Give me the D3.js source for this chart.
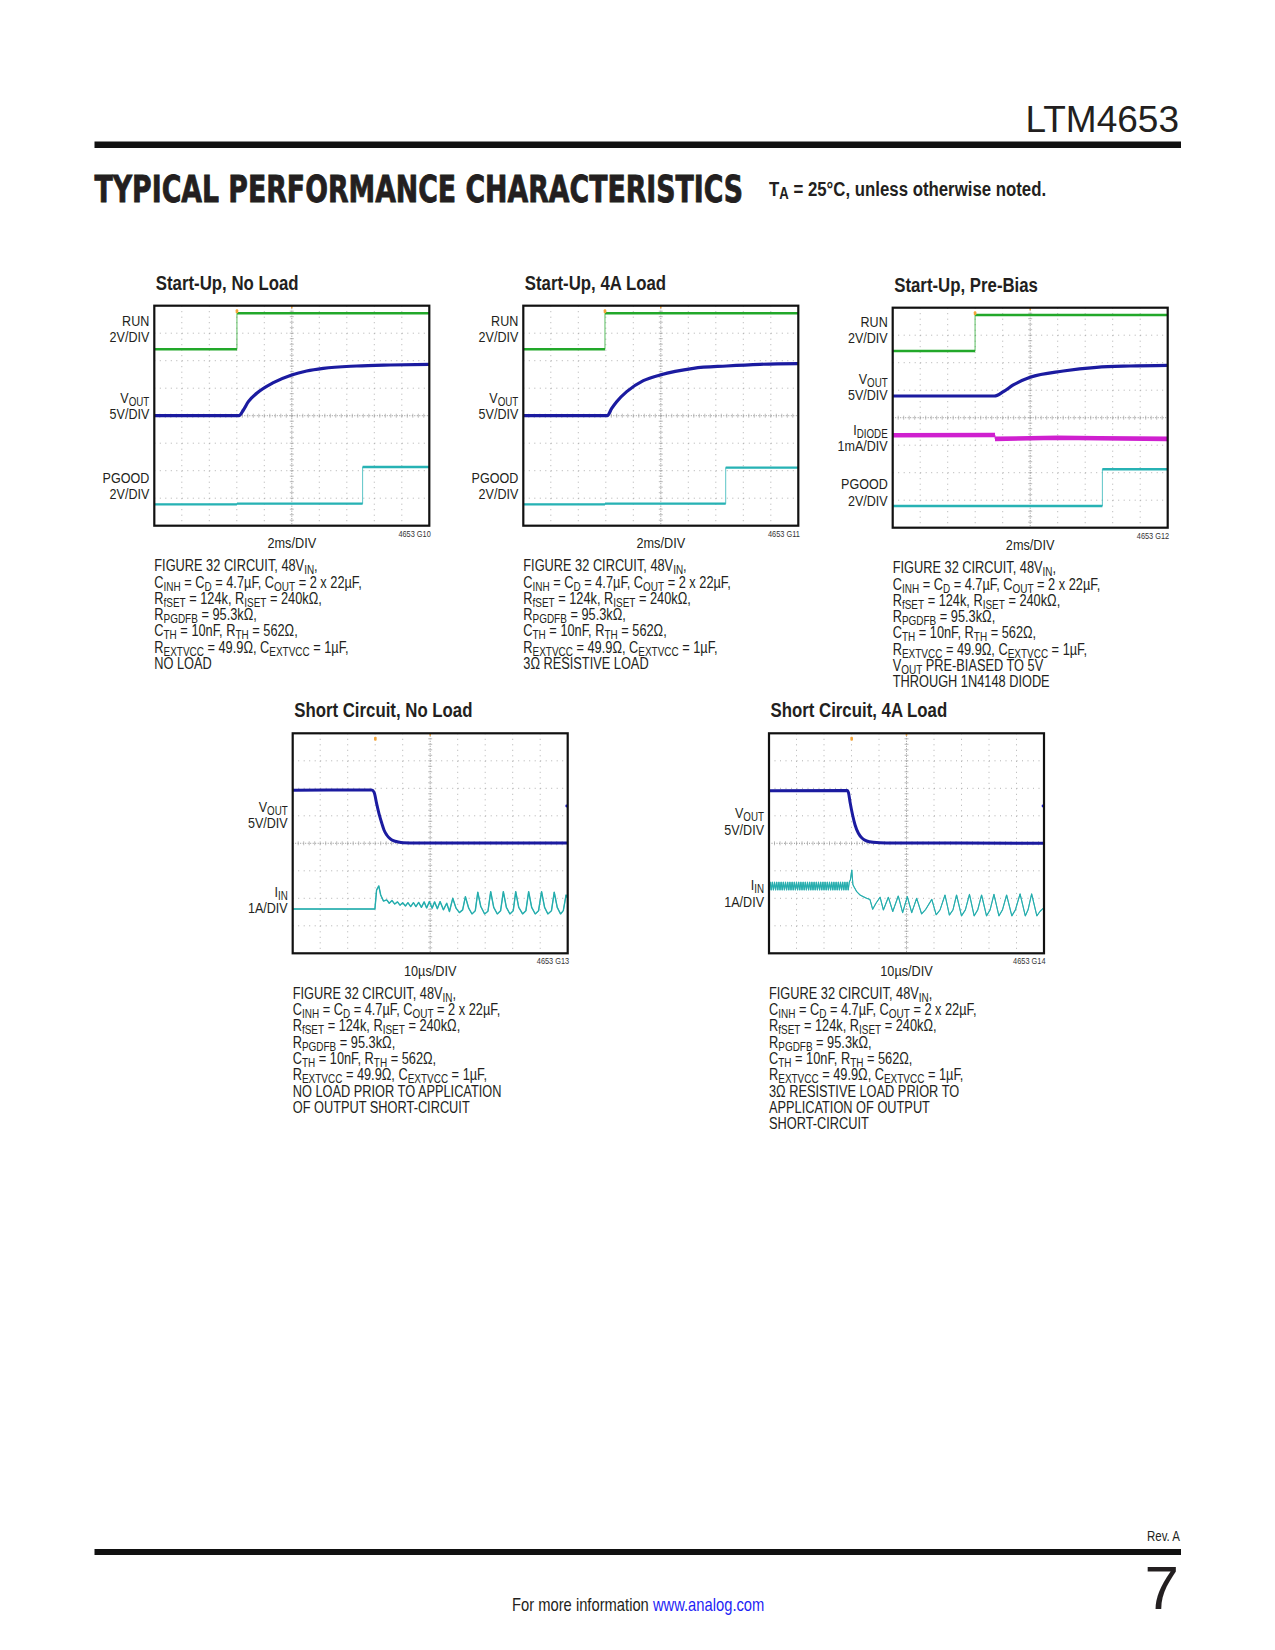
<!DOCTYPE html>
<html>
<head>
<meta charset="utf-8">
<script src="https://cdn.jsdelivr.net/npm/d3@7"></script>
<style>
body { margin: 0; background: #fff; }
text { font-family: "Liberation Sans", Arial, sans-serif; fill: #231f20; }
</style>
</head>
<body>
<svg id="page" width="1275" height="1650"></svg>
<script>
// time spans of the scope screens (10 divisions)
var startupTime = [0, 20];   // ms, 2ms/DIV
var shortTime = [0, 100];    // us, 10us/DIV

// ---- Start-Up, No Load (G10): [time ms, value]
var g10Run = [[0, 0], [6.01, 0], [6.01, 2.62], [20, 2.62]];
var g10Vout = [[0, 0], [6.16, 0], [6.48, 1.04], [6.84, 2.55], [7.45, 4.07], [8.66, 6.0], [9.99, 7.4],
  [11.08, 8.13], [12.29, 8.62], [14.72, 9.04], [17.14, 9.22], [20, 9.34]];
var g10Pgood = [[0, 0], [6.01, 0], [6.01, 0.05], [15.15, 0.05], [15.15, 2.72], [20, 2.72]];

// ---- Start-Up, 4A Load (G11)
var g11Run = [[0, 0], [5.94, 0], [5.94, 2.62], [20, 2.62]];
var g11Vout = [[0, 0], [6.11, 0], [6.43, 1.34], [6.79, 2.55], [7.52, 4.37], [8.73, 6.37], [9.94, 7.4],
  [12.37, 8.62], [14.79, 9.04], [17.21, 9.34], [20, 9.46]];
var g11Pgood = [[0, 0], [5.94, 0], [5.94, 0.05], [14.72, 0.05], [14.72, 2.67], [20, 2.67]];

// ---- Start-Up, Pre-Bias (G12)
var g12Run = [[0, 0], [5.99, 0], [5.99, 2.62], [20, 2.62]];
var g12Vout = [[0, 3.95], [7.39, 3.95], [8.05, 4.74], [8.77, 5.95], [9.99, 7.34], [12.41, 8.49],
  [14.83, 9.16], [17.26, 9.4], [20, 9.52]];
var g12Idiode = [[0, 0.96], [7.44, 0.97], [7.44, 0.83], [10, 0.85], [12, 0.87], [15, 0.85], [20, 0.83]]; // mA
var g12Pgood = [[0, 0], [15.25, 0], [15.25, 2.67], [20, 2.67]];

// ---- Short Circuit, No Load (G13): [time us, value]
var g13Vout = [[0, 9.66], [28.7, 9.69], [29.6, 9.3], [30.5, 7.27], [31.5, 5.15], [32.4, 3.64], [33.2, 2.42],
  [34.2, 1.51], [35.4, 0.85], [36.6, 0.48], [38.4, 0.24], [40.2, 0.12], [45.1, 0.06], [100, 0.06]];
var g13Iin = [[0, 0.21], [29.9, 0.21], [30.5, 0.9], [31.3, 1.05], [32.0, 0.72], [33.0, 0.5], [34.2, 0.54],
  [35.1, 0.42], [36.1, 0.52], [37.1, 0.39], [38.1, 0.47], [39.0, 0.35], [40.0, 0.44], [41.0, 0.32],
  [41.9, 0.44], [42.9, 0.3], [43.9, 0.44], [44.8, 0.3], [45.8, 0.45], [46.8, 0.27], [47.8, 0.47],
  [48.7, 0.25], [49.7, 0.48], [50.7, 0.24], [51.6, 0.47], [52.6, 0.22], [53.6, 0.48], [54.8, 0.18],
  [56.0, 0.42], [57.0, 0.12], [58.2, 0.6], [59.4, 0.24], [60.6, 0.08], [61.8, 0.18], [62.8, 0.66],
  [64.0, 0.24], [65.2, 0.03], [66.4, 0.15], [67.3, 0.82], [68.4, 0.3], [69.8, 0.03], [71.0, 0.13],
  [72.0, 0.84], [73.1, 0.27], [74.4, 0.03], [75.6, 0.15], [76.6, 0.84], [77.7, 0.27], [79.0, 0.03],
  [80.2, 0.15], [81.1, 0.84], [82.2, 0.27], [83.6, 0.03], [84.8, 0.15], [85.8, 0.84], [86.9, 0.27],
  [88.2, 0.03], [89.4, 0.15], [90.5, 0.84], [91.6, 0.27], [92.8, 0.03], [94.1, 0.15], [95.1, 0.82],
  [96.2, 0.27], [97.4, 0.03], [98.4, 0.15], [99.4, 0.72], [100, 0.6]];

// ---- Short Circuit, 4A Load (G14)
var g14Vout = [[0, 9.55], [28.5, 9.58], [28.9, 9.2], [29.45, 7.57], [30.4, 5.15], [31.3, 3.33], [32.5, 1.82],
  [33.9, 0.91], [35.5, 0.42], [37.9, 0.18], [42.8, 0.06], [100, 0.02]];
var g14Iin = [[0, 1.25], [0.4, 1.39], [0.8, 1.1], [1.2, 1.39], [1.6, 1.1], [2.0, 1.39], [2.4, 1.1], [2.8, 1.39],
  [3.2, 1.1], [3.6, 1.39], [4.0, 1.1], [4.4, 1.39], [4.8, 1.1], [5.2, 1.39], [5.6, 1.1], [6.0, 1.39],
  [6.4, 1.1], [6.8, 1.39], [7.2, 1.1], [7.6, 1.39], [8.0, 1.1], [8.4, 1.39], [8.8, 1.1], [9.2, 1.39],
  [9.6, 1.1], [10.0, 1.39], [10.4, 1.1], [10.8, 1.39], [11.2, 1.1], [11.6, 1.39], [12.0, 1.1], [12.4, 1.39],
  [12.8, 1.1], [13.2, 1.39], [13.6, 1.1], [14.0, 1.39], [14.4, 1.1], [14.8, 1.39], [15.2, 1.1], [15.6, 1.39],
  [16.0, 1.1], [16.4, 1.39], [16.8, 1.1], [17.2, 1.39], [17.6, 1.1], [18.0, 1.39], [18.4, 1.1], [18.8, 1.39],
  [19.2, 1.1], [19.6, 1.39], [20.0, 1.1], [20.4, 1.39], [20.8, 1.1], [21.2, 1.39], [21.6, 1.1], [22.0, 1.39],
  [22.4, 1.1], [22.8, 1.39], [23.2, 1.1], [23.6, 1.39], [24.0, 1.1], [24.4, 1.39], [24.8, 1.1], [25.2, 1.39],
  [25.6, 1.1], [26.0, 1.39], [26.4, 1.1], [26.8, 1.39], [27.2, 1.1], [27.6, 1.39], [28.0, 1.1], [28.4, 1.39],
  [28.8, 1.1], [29.2, 1.39], [29.6, 1.47], [30.1, 1.83], [30.5, 1.3], [30.9, 1.22], [31.9, 1.04],
  [33.1, 0.92], [34.3, 0.86], [35.5, 0.8], [36.7, 0.76], [37.7, 0.4], [38.9, 0.62], [40.4, 0.84],
  [41.6, 0.375], [43.4, 0.84], [45.0, 0.32], [47.0, 0.885], [48.6, 0.28], [50.3, 0.86], [51.9, 0.28],
  [53.7, 0.8], [55.5, 0.23], [57.0, 0.4], [59.2, 0.76], [60.8, 0.2], [62.2, 0.38], [64.0, 0.92],
  [65.6, 0.19], [66.9, 0.38], [68.2, 0.92], [70.0, 0.16], [71.4, 0.38], [72.9, 0.945], [74.6, 0.16],
  [75.9, 0.38], [77.3, 0.92], [79.1, 0.16], [80.4, 0.38], [81.8, 0.945], [83.6, 0.16], [84.9, 0.38],
  [86.4, 0.92], [88.3, 0.16], [89.6, 0.38], [91.3, 0.96], [93.2, 0.16], [94.2, 0.38], [95.5, 0.96],
  [97.4, 0.16], [98.6, 0.33], [99.8, 0.44]];

// test condition notes
var notesCommon = [
  "FIGURE 32 CIRCUIT, 48V_{IN},",
  "C_{INH} = C_{D} = 4.7µF, C_{OUT} = 2 x 22µF,",
  "R_{fSET} = 124k, R_{ISET} = 240kΩ,",
  "R_{PGDFB} = 95.3kΩ,",
  "C_{TH} = 10nF, R_{TH} = 562Ω,",
  "R_{EXTVCC} = 49.9Ω, C_{EXTVCC} = 1µF,"
];
var notesG10 = notesCommon.concat(["NO LOAD"]);
var notesG11 = notesCommon.concat(["3Ω RESISTIVE LOAD"]);
var notesG12 = notesCommon.concat(["V_{OUT} PRE-BIASED TO 5V", "THROUGH 1N4148 DIODE"]);
var notesG13 = notesCommon.concat(["NO LOAD PRIOR TO APPLICATION", "OF OUTPUT SHORT-CIRCUIT"]);
var notesG14 = notesCommon.concat(["3Ω RESISTIVE LOAD PRIOR TO", "APPLICATION OF OUTPUT", "SHORT-CIRCUIT"]);

// ---- colours / scope settings
var cRun = "#22a82a", cVout = "#1b1ba0", cPgood = "#27b2b4", cIin = "#25adad", cIdiode = "#cf20cf", cTrig = "#f3a43a";
var W = 275, H = 220; // screen: 10 x 8 divisions
var NARROW = 0.82;    // condensed look from Liberation Sans

var plots = [
  { id: "4653 G10", title: "Start-Up, No Load", left: 154.3, top: 305.7, time: startupTime, xLabel: "2ms/DIV", trig: 6.01,
    notes: notesG10,
    channels: [
      { label: ["RUN", "2V/DIV"], ly: 20.3, perDiv: 2, zero: 2.414, color: cRun, width: 2.5, data: g10Run },
      { label: ["V_{OUT}", "5V/DIV"], ly: 97.3, perDiv: 5, zero: 0, color: cVout, width: 3.2, smooth: true, data: g10Vout },
      { label: ["PGOOD", "2V/DIV"], ly: 177.3, perDiv: 2, zero: -3.223, color: cPgood, width: 2.4, data: g10Pgood }
    ] },
  { id: "4653 G11", title: "Start-Up, 4A Load", left: 523.3, top: 305.7, time: startupTime, xLabel: "2ms/DIV", trig: 5.94,
    notes: notesG11,
    channels: [
      { label: ["RUN", "2V/DIV"], ly: 20.3, perDiv: 2, zero: 2.414, color: cRun, width: 2.5, data: g11Run },
      { label: ["V_{OUT}", "5V/DIV"], ly: 97.3, perDiv: 5, zero: 0, color: cVout, width: 3.2, smooth: true, data: g11Vout },
      { label: ["PGOOD", "2V/DIV"], ly: 177.3, perDiv: 2, zero: -3.223, color: cPgood, width: 2.4, data: g11Pgood }
    ] },
  { id: "4653 G12", title: "Start-Up, Pre-Bias", left: 892.7, top: 307.7, time: startupTime, xLabel: "2ms/DIV", trig: 5.99,
    notes: notesG12,
    channels: [
      { label: ["RUN", "2V/DIV"], ly: 19, perDiv: 2, zero: 2.426, color: cRun, width: 2.5, data: g12Run },
      { label: ["V_{OUT}", "5V/DIV"], ly: 76.3, perDiv: 5, zero: 0, color: cVout, width: 3.2, smooth: true, data: g12Vout },
      { label: ["I_{DIODE}", "1mA/DIV"], ly: 127, perDiv: 1, zero: -1.6, color: cIdiode, width: 4.6, data: g12Idiode },
      { label: ["PGOOD", "2V/DIV"], ly: 181.6, perDiv: 2, zero: -3.21, color: cPgood, width: 2.4, data: g12Pgood }
    ] },
  { id: "4653 G13", title: "Short Circuit, No Load", left: 292.7, top: 733.3, time: shortTime, xLabel: "10µs/DIV", trig: 30.05,
    notes: notesG13, refDot: 1.357,
    channels: [
      { label: ["V_{OUT}", "5V/DIV"], ly: 78.4, perDiv: 5, zero: 0, color: cVout, width: 3.0, smooth: true, data: g13Vout },
      { label: ["I_{IN}", "1A/DIV"], ly: 163.4, perDiv: 1, zero: -2.6, color: cIin, width: 1.4, data: g13Iin }
    ] },
  { id: "4653 G14", title: "Short Circuit, 4A Load", left: 769, top: 733.3, time: shortTime, xLabel: "10µs/DIV", trig: 30.06,
    notes: notesG14, refDot: 1.357,
    channels: [
      { label: ["V_{OUT}", "5V/DIV"], ly: 85, perDiv: 5, zero: 0, color: cVout, width: 3.0, smooth: true, data: g14Vout },
      { label: ["I_{IN}", "1A/DIV"], ly: 157, perDiv: 1, zero: -2.8, color: cIin, width: 1.1, data: g14Iin }
    ] }
];

var svg = d3.select("#page");
var defs = svg.append("defs");

// narrow text placed at (x, y)
function ntext(parent, x, y, size, anchor, bold) {
  return parent.append("g").attr("transform", "translate(" + x + "," + y + ") scale(" + NARROW + ",1)")
    .append("text").attr("font-size", size).attr("text-anchor", anchor || "start")
    .attr("font-weight", bold ? "bold" : null);
}

// text with _{sub} pieces
function rich(sel, str, subScale) {
  var parts = str.split(/(_\{[^}]*\})/), back = 0;
  parts.forEach(function (p) {
    if (!p) return;
    if (p.charAt(0) === "_") {
      sel.append("tspan").attr("font-size", subScale + "em").attr("dy", 3 + back).text(p.slice(2, -1));
      back = -3;
    } else {
      sel.append("tspan").attr("dy", back).text(p);
      back = 0;
    }
  });
  return sel;
}

// header
svg.append("text").attr("x", 1179).attr("y", 132).attr("text-anchor", "end")
  .attr("font-size", 37).text("LTM4653");
svg.append("rect").attr("x", 94.5).attr("y", 141.5).attr("width", 1086.5).attr("height", 6.5).attr("fill", "#111");
var headG = svg.append("g");
var head = headG.append("text").attr("font-size", 38).attr("font-weight", "bold")
  .style("font-family", "'DejaVu Sans Condensed', 'DejaVu Sans', sans-serif")
  .attr("stroke", "#231f20").attr("stroke-width", 0.8)
  .text("TYPICAL PERFORMANCE CHARACTERISTICS");
headG.attr("transform", "translate(94.5,202) scale(" + (649 / head.node().getComputedTextLength()) + ",1)");
rich(ntext(svg, 769, 196, 20.5, "start", true), "T_{A} = 25°C, unless otherwise noted.", 0.78);

plots.forEach(drawScope);

function drawScope(p, k) {
  var x = d3.scaleLinear().domain(p.time).range([0, W]);
  var xDiv = d3.scaleLinear().domain([0, 10]).range([0, W]);
  var y = d3.scaleLinear().domain([-4, 4]).range([H, 0]);
  var g = svg.append("g").attr("transform", "translate(" + p.left + "," + p.top + ")");

  defs.append("clipPath").attr("id", "clip" + k).append("rect").attr("width", W).attr("height", H);

  ntext(g, 1.5, -16, 20.5, "start", true).text(p.title);

  // graticule
  var grid = g.append("g");
  grid.selectAll("line.v").data([1, 2, 3, 4, 6, 7, 8, 9]).enter().append("line")
    .attr("x1", xDiv).attr("x2", xDiv).attr("y1", 0).attr("y2", H)
    .attr("stroke", "#9c9c9c").attr("stroke-width", 0.8).attr("stroke-dasharray", "1,4.5");
  grid.selectAll("line.h").data([-3, -2, -1, 1, 2, 3]).enter().append("line")
    .attr("x1", 0).attr("x2", W).attr("y1", y).attr("y2", y)
    .attr("stroke", "#9c9c9c").attr("stroke-width", 0.8).attr("stroke-dasharray", "1,4.5");
  grid.append("line").attr("x1", xDiv(5)).attr("x2", xDiv(5)).attr("y1", 0).attr("y2", H)
    .attr("stroke", "#8c8c8c").attr("stroke-width", 0.9).attr("stroke-dasharray", "1,1.5");
  grid.append("line").attr("x1", 0).attr("x2", W).attr("y1", y(0)).attr("y2", y(0))
    .attr("stroke", "#8c8c8c").attr("stroke-width", 0.9).attr("stroke-dasharray", "1,1.5");
  grid.selectAll("line.tx").data(d3.range(1, 50)).enter().append("line")
    .attr("x1", function (d) { return xDiv(d / 5); }).attr("x2", function (d) { return xDiv(d / 5); })
    .attr("y1", y(0) - 2).attr("y2", y(0) + 2).attr("stroke", "#a0a0a0").attr("stroke-width", 0.7);
  grid.selectAll("line.ty").data(d3.range(-19, 20)).enter().append("line")
    .attr("y1", function (d) { return y(d / 5); }).attr("y2", function (d) { return y(d / 5); })
    .attr("x1", xDiv(5) - 2).attr("x2", xDiv(5) + 2).attr("stroke", "#a0a0a0").attr("stroke-width", 0.7);

  // traces
  var tr = g.append("g").attr("clip-path", "url(#clip" + k + ")");
  p.channels.forEach(function (ch) {
    var pts = ch.data.map(function (d) { return [x(d[0]), y(ch.zero + d[1] / ch.perDiv)]; });
    var line = d3.line();
    if (ch.smooth) line.curve(d3.curveMonotoneX);
    // thin path including the fast edges
    tr.append("path").attr("d", line(pts)).attr("fill", "none").attr("stroke", ch.color)
      .attr("stroke-width", 1).attr("opacity", 0.75);
    // thick runs between vertical edges
    var runs = [], cur = [pts[0]];
    for (var i = 1; i < pts.length; i++) {
      if (ch.data[i][0] === ch.data[i - 1][0]) { runs.push(cur); cur = [pts[i]]; }
      else cur.push(pts[i]);
    }
    runs.push(cur);
    runs.forEach(function (r) {
      if (r.length < 2) return;
      tr.append("path").attr("d", line(r)).attr("fill", "none").attr("stroke", ch.color)
        .attr("stroke-width", ch.width).attr("stroke-linejoin", "round");
    });

    // channel label at the left
    ch.label.forEach(function (s, j) {
      rich(ntext(g, -5, ch.ly + j * 16.3, 15.3, "end"), s, 0.78);
    });
  });

  // trigger / position markers
  g.append("rect").attr("x", x(p.trig) - 1.3).attr("y", 3.5).attr("width", 2.6).attr("height", 4).attr("rx", 1)
    .attr("fill", cTrig);
  g.append("rect").attr("x", xDiv(5) - 0.8).attr("y", 0).attr("width", 1.6).attr("height", 2.5).attr("fill", cTrig);
  if (p.refDot !== undefined) {
    g.append("circle").attr("cx", W - 1).attr("cy", y(p.refDot)).attr("r", 1.4).attr("fill", "#2020d0");
  }

  // frame
  g.append("rect").attr("width", W).attr("height", H).attr("fill", "none")
    .attr("stroke", "#111").attr("stroke-width", 2.2);

  ntext(g, W + 1.5, H + 11, 9, "end").style("fill", "#333").text(p.id);
  ntext(g, W / 2, H + 22.5, 15.5, "middle").text(p.xLabel);

  p.notes.forEach(function (s, j) {
    rich(ntext(g, 0, H + 45.5 + j * 16.3, 15.6), s, 0.78);
  });
}

// footer
ntext(svg, 1180, 1541, 14, "end").text("Rev. A");
svg.append("rect").attr("x", 94.5).attr("y", 1549).attr("width", 1086.5).attr("height", 6).attr("fill", "#111");
svg.append("text").attr("x", 1179).attr("y", 1609).attr("text-anchor", "end")
  .attr("font-size", 62).text("7");
var foot = ntext(svg, 512, 1611, 18);
foot.append("tspan").text("For more information ");
foot.append("tspan").style("fill", "#1f1ff5").text("www.analog.com");
</script>
</body>
</html>
